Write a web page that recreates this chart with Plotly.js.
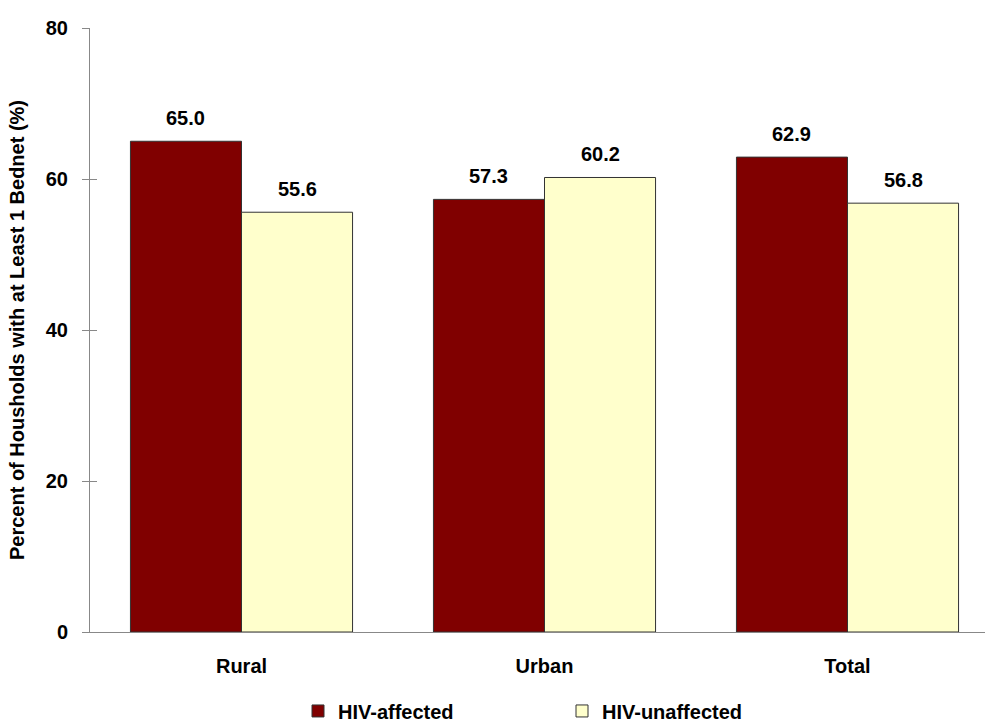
<!DOCTYPE html>
<html><head><meta charset="utf-8">
<script src="https://cdn.plot.ly/plotly-3.0.1.min.js"></script>
<style>html,body{margin:0;padding:0;overflow:hidden;background:#fff}#chart{width:1000px;height:724px}</style>
</head><body><div id="chart"></div>
<script>
const categories = ["Rural", "Urban", "Total"];
const affected = [65.0, 57.3, 62.9];
const unaffected = [55.6, 60.2, 56.8];
const seriesNames = ["HIV-affected", "HIV-unaffected"];
const yTicks = [0, 20, 40, 60, 80];

const FONT = "Liberation Sans, Arial, sans-serif";
const traces = [
  {type: "bar", name: seriesNames[0], x: categories, y: affected,
   marker: {color: "#800000", line: {color: "#333333", width: 1}}, hoverinfo: "y"},
  {type: "bar", name: seriesNames[1], x: categories, y: unaffected,
   marker: {color: "#FFFFCC", line: {color: "#333333", width: 1}}, hoverinfo: "y"},
  {type: "scatter", x: [categories[0]], y: [0], yaxis: "y2", mode: "markers",
   marker: {opacity: 0}, showlegend: false, hoverinfo: "skip"}
];
const half = (1 - 0.267) / 4;
const annotations = [];
categories.forEach((c, i) => {
  annotations.push({x: i - half, y: affected[i], xref: "x", yref: "y", text: "<b>" + affected[i].toFixed(1) + "</b>",
    showarrow: false, yanchor: "bottom", yshift: 10, font: {family: FONT, size: 20, color: "#000"}});
  annotations.push({x: i + half, y: unaffected[i], xref: "x", yref: "y", text: "<b>" + unaffected[i].toFixed(1) + "</b>",
    showarrow: false, yanchor: "bottom", yshift: 10, font: {family: FONT, size: 20, color: "#000"}});
});
const layout = {
  width: 1000, height: 724,
  margin: {l: 90, r: 1, t: 28, b: 92},
  paper_bgcolor: "#fff", plot_bgcolor: "#fff",
  barmode: "group", bargap: 0.267, bargroupgap: 0,
  font: {family: FONT, color: "#000"},
  xaxis: {type: "category", range: [-0.5, 2.5], showline: true, linecolor: "#888", linewidth: 1,
    ticks: "", showgrid: false, zeroline: false, ticklabelstandoff: 16, automargin: false,
    tickfont: {family: FONT, size: 20, weight: "bold", color: "#000"}},
  yaxis: {range: [0, 80], tickvals: yTicks, ticktext: yTicks.map(String), showline: true, linecolor: "#888", linewidth: 1,
    ticks: "outside", ticklen: 7, tickcolor: "#888", showgrid: false, zeroline: false, ticklabelstandoff: 10, automargin: false,
    tickfont: {family: FONT, size: 20, weight: "bold", color: "#000"},
    title: {text: "<b>Percent of Housholds with at Least 1 Bednet (%)</b>", standoff: 15, font: {family: FONT, size: 20, color: "#000"}}},
  yaxis2: {overlaying: "y", range: [0, 80], tickvals: yTicks, showticklabels: false, ticks: "inside", ticklen: 7,
    tickcolor: "#888", showgrid: false, zeroline: false, showline: false},
  showlegend: true,
  legend: {orientation: "h", x: 0.562, xref: "container", xanchor: "center", y: 0.018, yref: "container", yanchor: "middle",
    entrywidth: 219, itemwidth: 30, traceorder: "normal", bgcolor: "rgba(0,0,0,0)",
    font: {family: FONT, size: 20, weight: "bold", color: "#000"}},
  annotations: annotations
};
Plotly.newPlot("chart", traces, layout, {displayModeBar: false, staticPlot: true});
</script></body></html>
